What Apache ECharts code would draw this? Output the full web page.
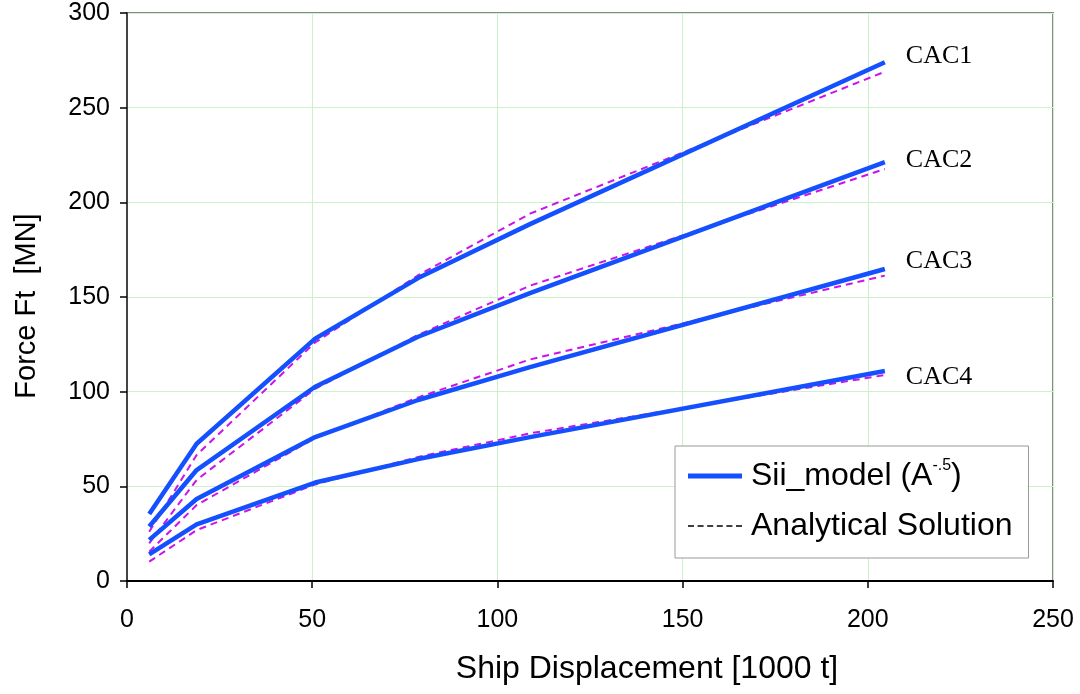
<!DOCTYPE html>
<html>
<head>
<meta charset="utf-8">
<script src="https://cdn.jsdelivr.net/npm/echarts@6/dist/echarts.min.js"></script>
<style>
  html, body { margin: 0; padding: 0; background: #fff; }
  #chart { width: 1080px; height: 694px; }
</style>
</head>
<body>
<div id="chart"></div>
<script>
// ship displacement, 1000 t
const displacement = [6, 18.8, 50.8, 78.6, 108.8, 204.6]
const curveNames = ['CAC1', 'CAC2', 'CAC3', 'CAC4']

// Sii model (A^-.5)
const siiCAC1 = [35.4, 72.5, 128, 160, 188.5, 274]
const siiCAC2 = [28.8, 58.6, 102.6, 129, 152, 221.2]
const siiCAC3 = [21.7, 43.3, 76, 95.6, 113, 164.8]
const siiCAC4 = [14.1, 29.9, 52, 64.4, 76, 110.9]

// analytical solution
const anaCAC1 = [26, 66.6, 126, 161.5, 194, 269]
const anaCAC2 = [19.9, 53.4, 101.5, 130, 156, 217.6]
const anaCAC3 = [15.5, 40.1, 75.5, 97, 117, 161.3]
const anaCAC4 = [10.2, 26.9, 51, 65.5, 78, 108.8]

const SII = 'Sii_model (A-.5)'
const ANA = 'Analytical Solution'
const blue = '#1550ff'
const magenta = '#cc11ee'

const sii = [siiCAC1, siiCAC2, siiCAC3, siiCAC4]
const ana = [anaCAC1, anaCAC2, anaCAC3, anaCAC4]
const labelOffsets = [[13, -6], [13, -2], [13, -8], [13, 6]] // nudge CAC labels

// legend samples: solid bar and dashed bar, 54 wide
const solidIcon = 'path://M0,0h54v5h-54z'
const dashedIcon = 'path://M0,0h6v1.5h-6z M9.6,0h6v1.5h-6z M19.2,0h6v1.5h-6z M28.8,0h6v1.5h-6z M38.4,0h6v1.5h-6z M48,0h6v1.5h-6z'

function pairs(ys) {
  return ys.map((y, i) => [displacement[i], y])
}

const series = []
ana.forEach((ys) => {
  series.push({
    name: ANA,
    type: 'line',
    symbol: 'none',
    data: pairs(ys),
    lineStyle: { color: magenta, width: 2, type: [7, 5] },
    itemStyle: { color: magenta },
    z: 2,
  })
})
sii.forEach((ys, i) => {
  series.push({
    name: SII,
    type: 'line',
    symbol: 'none',
    data: pairs(ys),
    lineStyle: { color: blue, width: 4.5 },
    itemStyle: { color: blue },
    z: 3,
    endLabel: {
      show: true,
      formatter: curveNames[i],
      fontFamily: 'Liberation Serif',
      fontSize: 26,
      color: '#000',
      offset: labelOffsets[i],
    },
  })
})

const chart = echarts.init(document.getElementById('chart'), null, { renderer: 'canvas' })
chart.setOption({
  backgroundColor: '#fff',
  animation: false,
  grid: {
    left: 127, top: 13, right: 27, bottom: 113,
    show: true, borderColor: '#888', borderWidth: 2,
  },
  legend: {
    orient: 'vertical',
    left: 675, top: 446,
    padding: [12, 16, 14, 13],
    itemWidth: 54,
    itemHeight: 14,
    itemGap: 14,
    symbolKeepAspect: true,
    backgroundColor: '#fff',
    borderColor: '#999',
    borderWidth: 1,
    borderRadius: 0,
    textStyle: {
      fontFamily: 'Liberation Sans',
      fontSize: 32,
      lineHeight: 36,
      color: '#000',
      rich: {
        g: { width: 4 },
        a: { fontFamily: 'Liberation Sans', fontSize: 32, lineHeight: 36, color: '#000' },
        s: { fontFamily: 'Liberation Sans', fontSize: 16, color: '#000', verticalAlign: 'top', padding: [0, 0, 12, 0] },
      },
    },
    formatter: (name) => name === SII ? '{g|}{a|Sii_model (A}{s|-.5}{a|)}' : '{g|}{a|' + name + '}',
    data: [
      { name: SII, icon: solidIcon, itemStyle: { color: blue } },
      { name: ANA, icon: dashedIcon, itemStyle: { color: '#000' } },
    ],
  },
  xAxis: {
    type: 'value',
    min: 0, max: 250, interval: 50,
    name: 'Ship Displacement [1000 t]',
    nameLocation: 'middle',
    nameGap: 72,
    nameTextStyle: { fontFamily: 'Liberation Sans', fontSize: 32, color: '#000', padding: [0, 0, 0, 114] },
    axisLine: { lineStyle: { color: '#000', width: 2 } },
    axisTick: { show: true, length: 7, lineStyle: { color: '#000', width: 1.5 } },
    axisLabel: { fontFamily: 'Liberation Sans', fontSize: 25, color: '#000', margin: 27 },
    splitLine: { lineStyle: { color: '#ccf2cc', width: 1 } },
  },
  yAxis: {
    type: 'value',
    min: 0, max: 300, interval: 50,
    name: 'Force Ft  [MN]',
    nameLocation: 'middle',
    nameGap: 86,
    nameRotate: 90,
    nameTextStyle: { fontFamily: 'Liberation Sans', fontSize: 29, color: '#000', padding: [0, 18, 0, 0] },
    axisLine: { show: true, lineStyle: { color: '#444', width: 2 } },
    axisTick: { show: true, length: 7, lineStyle: { color: '#000', width: 1.5 } },
    axisLabel: { fontFamily: 'Liberation Sans', fontSize: 25, color: '#000', margin: 17 },
    splitLine: { lineStyle: { color: '#ccf2cc', width: 1 } },
  },
  series: series,
})
</script>
</body>
</html>
